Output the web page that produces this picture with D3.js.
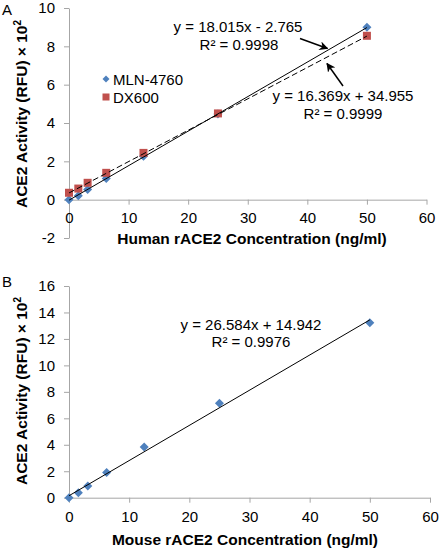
<!DOCTYPE html>
<html>
<head>
<meta charset="utf-8">
<script src="https://cdn.jsdelivr.net/npm/d3@7"></script>
<style>
  html, body { margin: 0; padding: 0; background: #fff; }
  svg { display: block; font-family: "Liberation Sans", Arial, sans-serif; }
</style>
</head>
<body>
<svg id="chart" width="440" height="551"></svg>
<script>
// ---- data ----
const concentrations = [0, 1.5625, 3.125, 6.25, 12.5, 25, 50];
const mlnHuman = [0.0, 0.2, 0.53, 1.1, 2.27, 4.47, 9.0];
const dxHuman = [0.36, 0.58, 0.88, 1.4, 2.44, 4.5, 8.55];
const mlnMouse = [0.0, 0.38, 0.88, 1.91, 3.83, 7.13, 13.23];
// regression fits (RFU units; plotted as ×10²)
const fitMlnHuman = { slope: 18.015, intercept: -2.765, r2: "0.9998" };
const fitDxHuman = { slope: 16.369, intercept: 34.955, r2: "0.9999" };
const fitMouse = { slope: 26.584, intercept: 14.942, r2: "0.9976" };
const xTicks = [0, 10, 20, 30, 40, 50, 60];
const yTicksA = [-2, 0, 2, 4, 6, 8, 10];
const yTicksB = [0, 2, 4, 6, 8, 10, 12, 14, 16];

const blue = "#4f81bd", red = "#c0504d", axisColor = "#a6a6a6";
const svg = d3.select("#chart");
const fmt = d => String(d);

const defs = svg.append("defs");
defs.append("marker").attr("id", "arrow").attr("viewBox", "0 0 10 10")
  .attr("refX", 9).attr("refY", 5).attr("markerWidth", 9).attr("markerHeight", 9)
  .attr("markerUnits", "userSpaceOnUse").attr("orient", "auto")
  .append("path").attr("d", "M0,0 L10,5 L0,10 L3,5 Z").attr("fill", "#000");

function styleAxis(g) {
  g.selectAll("path, line").attr("stroke", axisColor).attr("stroke-width", 1);
  g.selectAll("text").attr("font-size", 15).attr("fill", "#000")
    .attr("font-family", '"Liberation Sans", Arial, sans-serif');
}

function diamond(g, x, y, r, color) {
  g.append("path").attr("d", `M${x},${y - r} L${x + r},${y} L${x},${y + r} L${x - r},${y} Z`)
    .attr("fill", color);
}
function square(g, x, y, s, color) {
  g.append("rect").attr("x", x - s / 2).attr("y", y - s / 2).attr("width", s).attr("height", s)
    .attr("fill", color);
}

function yTitle(x, cy) {
  const t = svg.append("text").attr("transform", `translate(${x},${cy}) rotate(-90)`)
    .attr("text-anchor", "middle").attr("font-size", 15.5).attr("font-weight", "bold");
  t.append("tspan").text("ACE2 Activity (RFU) × 10");
  t.append("tspan").attr("font-size", 10).attr("dy", -6).text("2");
}

// ---------------- Panel A ----------------
const xA = d3.scaleLinear().domain([0, 60]).range([69, 426.5]);
const yA = d3.scaleLinear().domain([-2, 10]).range([238, 8]);

svg.append("g").attr("transform", "translate(69,0)")
  .call(d3.axisLeft(yA).tickValues(yTicksA).tickFormat(fmt).tickSize(5).tickSizeOuter(0).tickPadding(9))
  .call(styleAxis);
svg.append("g").attr("transform", `translate(0,${yA(0)})`)
  .call(d3.axisBottom(xA).tickValues(xTicks).tickFormat(fmt).tickSize(5).tickSizeOuter(0).tickPadding(8))
  .call(styleAxis);

const gA = svg.append("g");
concentrations.forEach((c, i) => diamond(gA, xA(c), yA(mlnHuman[i]), 4.5, blue));
concentrations.forEach((c, i) => square(gA, xA(c), yA(dxHuman[i]), 8, red));

const lineA = (f) => d3.line().x(d => xA(d)).y(d => yA((f.slope * d + f.intercept) / 100));
gA.append("path").datum([0, 50]).attr("d", lineA(fitMlnHuman))
  .attr("stroke", "#000").attr("stroke-width", 1).attr("fill", "none");
gA.append("path").datum([0, 50]).attr("d", lineA(fitDxHuman))
  .attr("stroke", "#000").attr("stroke-width", 1).attr("stroke-dasharray", "6,3").attr("fill", "none");

// legend
diamond(svg, 106, 79, 3.5, blue);
svg.append("text").attr("x", 113).attr("y", 85).attr("font-size", 15).text("MLN-4760");
square(svg, 106, 97, 7, red);
svg.append("text").attr("x", 113).attr("y", 103).attr("font-size", 15).text("DX600");

// equations
svg.append("text").attr("x", 238).attr("y", 32).attr("text-anchor", "middle").attr("font-size", 15)
  .text(`y = ${fitMlnHuman.slope.toFixed(3)}x - ${Math.abs(fitMlnHuman.intercept).toFixed(3)}`);
svg.append("text").attr("x", 239).attr("y", 50).attr("text-anchor", "middle").attr("font-size", 15)
  .text(`R² = ${fitMlnHuman.r2}`);
svg.append("text").attr("x", 343).attr("y", 101).attr("text-anchor", "middle").attr("font-size", 15)
  .text(`y = ${fitDxHuman.slope.toFixed(3)}x + ${fitDxHuman.intercept.toFixed(3)}`);
svg.append("text").attr("x", 343).attr("y", 119).attr("text-anchor", "middle").attr("font-size", 15)
  .text(`R² = ${fitDxHuman.r2}`);

// arrows
svg.append("line").attr("x1", 300).attr("y1", 38.5).attr("x2", 327.5).attr("y2", 48.5)
  .attr("stroke", "#000").attr("stroke-width", 1.5).attr("marker-end", "url(#arrow)");
svg.append("line").attr("x1", 343).attr("y1", 86).attr("x2", 327).attr("y2", 63.5)
  .attr("stroke", "#000").attr("stroke-width", 1.5).attr("marker-end", "url(#arrow)");

// titles
svg.append("text").attr("x", 2).attr("y", 15).attr("font-size", 15).text("A");
svg.append("text").attr("x", 252).attr("y", 244).attr("text-anchor", "middle")
  .attr("font-size", 15.5).attr("font-weight", "bold").text("Human rACE2 Concentration (ng/ml)");
yTitle(27, 114);

// ---------------- Panel B ----------------
const xB = d3.scaleLinear().domain([0, 60]).range([69, 430]);
const yB = d3.scaleLinear().domain([0, 16]).range([497.7, 286]);

svg.append("g").attr("transform", "translate(69,0)")
  .call(d3.axisLeft(yB).tickValues(yTicksB).tickFormat(fmt).tickSize(5).tickSizeOuter(0).tickPadding(9))
  .call(styleAxis);
svg.append("g").attr("transform", `translate(0,${yB(0)})`)
  .call(d3.axisBottom(xB).tickValues(xTicks).tickFormat(fmt).tickSize(5).tickSizeOuter(0).tickPadding(9))
  .call(styleAxis);

const gB = svg.append("g");
concentrations.forEach((c, i) => diamond(gB, xB(c), yB(mlnMouse[i]), 4.5, blue));
gB.append("path").datum([0, 50])
  .attr("d", d3.line().x(d => xB(d)).y(d => yB((fitMouse.slope * d + fitMouse.intercept) / 100)))
  .attr("stroke", "#000").attr("stroke-width", 1).attr("fill", "none");

svg.append("text").attr("x", 251).attr("y", 330).attr("text-anchor", "middle").attr("font-size", 15)
  .text(`y = ${fitMouse.slope.toFixed(3)}x + ${fitMouse.intercept.toFixed(3)}`);
svg.append("text").attr("x", 251).attr("y", 347).attr("text-anchor", "middle").attr("font-size", 15)
  .text(`R² = ${fitMouse.r2}`);

svg.append("text").attr("x", 2).attr("y", 287).attr("font-size", 15).text("B");
svg.append("text").attr("x", 245).attr("y", 545).attr("text-anchor", "middle")
  .attr("font-size", 15.5).attr("font-weight", "bold").text("Mouse rACE2 Concentration (ng/ml)");
yTitle(27, 391);
</script>
</body>
</html>
